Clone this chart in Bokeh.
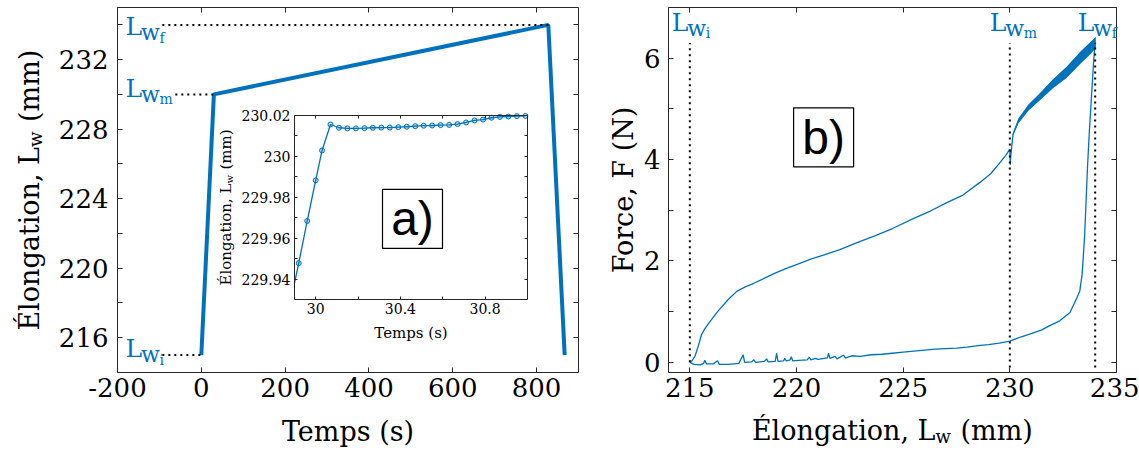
import math
from bokeh.plotting import figure
from bokeh.models import Range1d, LinearAxis, FixedTicker, Label
from bokeh.embed import file_html
from bokeh.resources import INLINE

# ---------------- data ----------------
# (a) elongation vs time
time_s = [0, 30, 828, 867]
elong_mm = [215.0, 230.0, 234.0, 215.0]
Lw_values = [215.0, 230.0, 234.0]          # Lw_i, Lw_m, Lw_f
Lw_times = [0, 30, 828]
Lw_subs = ["i", "m", "f"]

# (a) inset: zoom around t = 30 s
inset_edge_t = 29.9
inset_edge_L = 229.938
inset_t = [29.92, 29.96, 30.0, 30.03, 30.07, 30.11, 30.15, 30.19, 30.23, 30.27,
           30.31, 30.35, 30.39, 30.43, 30.47, 30.51, 30.55, 30.59, 30.63, 30.67,
           30.71, 30.75, 30.79, 30.83, 30.87, 30.91, 30.95, 30.99]
inset_L = [229.9478, 229.9684, 229.9883, 230.0029, 230.0156, 230.0140, 230.0137,
           230.0137, 230.0138, 230.0140, 230.0141, 230.0141, 230.0143, 230.0145,
           230.0148, 230.0150, 230.0151, 230.0153, 230.0154, 230.0158, 230.0166,
           230.0176, 230.0180, 230.0189, 230.0193, 230.0195, 230.0197, 230.0198]

# (b) force vs elongation : loading branch
load_x = [215.0, 215.1, 215.25, 215.4, 215.55, 215.7, 215.9, 216.3, 216.8, 217.2,
          217.6, 218.0, 218.5, 219.0, 219.5, 220.0, 220.7, 221.3, 222.0, 222.9,
          223.7, 224.5, 225.5, 226.3, 227.0, 227.8, 228.6, 229.1, 229.5, 229.8,
          230.0, 230.02]
load_F = [0.0, 0.03, 0.13, 0.33, 0.55, 0.66, 0.78, 1.0, 1.24, 1.4,
          1.49, 1.56, 1.66, 1.76, 1.85, 1.93, 2.04, 2.12, 2.22, 2.37,
          2.5, 2.64, 2.84, 2.99, 3.14, 3.3, 3.55, 3.72, 3.92, 4.08,
          4.2, 3.9]
# noisy part after Lw_m (centre, lower and upper envelope)
noisy_x = [230.05, 230.15, 230.4, 230.88, 231.36, 232.01, 232.66, 233.31, 233.8, 234.03]
noisy_F = [4.1, 4.5, 4.76, 5.03, 5.22, 5.49, 5.72, 6.01, 6.21, 6.31]
noisy_lo = [4.08, 4.47, 4.71, 4.97, 5.15, 5.4, 5.61, 5.89, 6.09, 6.2]
noisy_hi = [4.12, 4.53, 4.81, 5.09, 5.29, 5.58, 5.83, 6.13, 6.33, 6.42]
# unloading branch (from Lw_f back down)
unload_x = [234.0, 233.93, 233.72, 233.64, 233.51, 233.39, 233.28, 233.15, 232.82,
            232.34, 231.85, 231.5, 231.04, 230.5, 230.0]
unload_F = [6.31, 5.95, 4.5, 3.84, 2.53, 1.74, 1.41, 1.28, 0.985,
            0.82, 0.72, 0.64, 0.57, 0.5, 0.42]
# return branch near zero (x descending to Lw_i)
ret_x = [229.5, 229.0, 228.5, 228.0, 227.5, 227.0, 226.5, 226.0, 225.5, 225.0,
         224.5, 224.0, 223.5, 223.0, 222.6, 222.3, 222.2, 221.9, 221.8, 221.57,
         221.5, 221.45, 221.0, 220.9, 220.67, 220.6, 220.5, 220.1, 219.82, 219.76,
         219.7, 219.52, 219.45, 219.4, 219.13, 219.07, 219.0, 218.67, 218.6, 218.5,
         218.08, 218.0, 217.9, 217.57, 217.5, 217.3, 216.8, 216.38, 216.3, 216.1,
         215.78, 215.7, 215.65, 215.5, 215.2, 215.0]
ret_F = [0.38, 0.35, 0.33, 0.3, 0.28, 0.27, 0.26, 0.24, 0.22, 0.2,
         0.18, 0.16, 0.15, 0.12, 0.13, 0.09, 0.14, 0.07, 0.12, 0.08,
         0.18, 0.09, 0.06, 0.08, 0.05, 0.1, 0.05, 0.04, 0.03, 0.11,
         0.05, 0.03, 0.08, 0.03, 0.02, 0.18, 0.02, 0.01, 0.07, 0.02,
         0.0, 0.05, 0.01, 0.0, 0.15, -0.02, -0.04, -0.04, 0.03, -0.03,
         -0.03, 0.04, -0.02, -0.05, -0.04, 0.0]

# ticks
t_ticks = [-200, 0, 200, 400, 600, 800]
t_labels = ["-200", "0", "200", "400", "600", "800"]
L_ticks = [216, 220, 224, 228, 232]
L_labels = ["216", "220", "224", "228", "232"]
L_minor = [218, 222, 226, 230, 234]
it_ticks = [30.0, 30.4, 30.8]
it_labels = ["30", "30.4", "30.8"]
it_minor = [30.2, 30.6]
iL_ticks = [229.94, 229.96, 229.98, 230.0, 230.02]
iL_labels = ["229.94", "229.96", "229.98", "230", "230.02"]
iL_minor = [229.95, 229.97, 229.99, 230.01]
Fx_ticks = [215, 220, 225, 230, 235]
Fx_labels = ["215", "220", "225", "230", "235"]
Fy_ticks = [0, 2, 4, 6]
Fy_labels = ["0", "2", "4", "6"]
Fy_minor = [1, 3, 5]

# ---------------- style ----------------
BLUE = "#0072BD"
AX = "#262626"
FONT = "DejaVu Serif"
TICK_FS = "26px"
TITLE_FS = 27
BASE_CORR = 0.35           # Label 'alphabetic' anchor correction (fraction of font size)
W, H = 1139, 449           # one canvas; every panel box is placed inside it (pixels)

p = figure(frame_width=W, frame_height=H, x_range=Range1d(0, W), y_range=Range1d(H, 0),
           x_axis_location=None, y_axis_location=None, output_backend="svg",
           toolbar_location=None, min_border_left=0, min_border_right=0,
           min_border_top=0, min_border_bottom=0)
p.outline_line_color = None
p.background_fill_color = "white"
p.border_fill_color = "white"
for g in p.grid:
    g.visible = False


def panel(name, x0, x1, y0, y1, L, R, T, B):
    """map data box [x0,x1]x[y0,y1] onto pixel box L..R (left->right), T..B (top->bottom)"""
    sx = (x1 - x0) / (R - L)
    sy = (y1 - y0) / (B - T)
    p.extra_x_ranges[name] = Range1d(x0 - L * sx, x0 - L * sx + W * sx)
    p.extra_y_ranges[name] = Range1d(y0 - (H - B) * sy, y1 + T * sy)


def make_axis(name, side, loc, bounds, ticks, labels, minor, size, standoff, tick_len, show):
    ax = LinearAxis(x_range_name=name, y_range_name=name, fixed_location=loc, bounds=bounds)
    ax.ticker = FixedTicker(ticks=list(ticks), minor_ticks=list(minor))
    ax.major_label_overrides = {t: (l if show else "") for t, l in zip(ticks, labels)}
    ax.major_tick_in = tick_len
    ax.major_tick_out = 0
    ax.minor_tick_in = tick_len
    ax.minor_tick_out = 0
    ax.axis_line_color = AX
    ax.major_tick_line_color = AX
    ax.minor_tick_line_color = AX
    ax.major_label_text_font = FONT
    ax.major_label_text_font_size = size if show else "0px"
    ax.major_label_standoff = standoff if show else 0
    ax.major_label_text_color = "black"
    p.add_layout(ax, side)


def box_axes(name, x0, x1, y0, y1, xt, xl, xm, yt, yl, ym, size, sox, soy, tl):
    make_axis(name, "below", y0, (x0, x1), xt, xl, xm, size, sox, tl, True)
    make_axis(name, "above", y1, (x0, x1), xt, xl, xm, size, 0, tl, False)
    make_axis(name, "left", x0, (y0, y1), yt, yl, ym, size, soy, tl, True)
    make_axis(name, "right", x1, (y0, y1), yt, yl, ym, size, 0, tl, False)


def add_text(x, y, text, size, color="black", align="left", baseline="alphabetic",
             angle=0.0, xo=0, yo=0, font=FONT, rn="default"):
    if baseline == "alphabetic":
        if angle == 0.0:
            yo += BASE_CORR * size
        else:
            xo -= BASE_CORR * size
    p.add_layout(Label(x=x, y=y, text=text, text_font=font, text_font_size=f"{size}px",
                       text_color=color, text_align=align, text_baseline=baseline,
                       angle=angle, x_offset=xo, y_offset=yo,
                       x_range_name=rn, y_range_name=rn))


def lw_label(x, y, sub, xo=0, rn="default"):
    add_text(x, y, "L", 25, BLUE, xo=xo, rn=rn)
    add_text(x, y, "w", 22, BLUE, xo=xo + 15.5, yo=-6 + BASE_CORR * (25 - 22), rn=rn)
    add_text(x, y, sub, 14, BLUE, xo=xo + 34, yo=-11 + BASE_CORR * (25 - 14), rn=rn)


def sub_title(xj, yj, size, subsize, vertical, gap, shift):
    """'Élongation, L_w (mm)' joined at (xj, yj) in canvas pixels"""
    ang = math.pi / 2 if vertical else 0.0
    d = BASE_CORR * (size - subsize)
    add_text(xj, yj, "Élongation, L", size, align="right", angle=ang)
    if vertical:
        add_text(xj, yj, "w", subsize, angle=ang, xo=shift - d)
        add_text(xj, yj, "(mm)", size, angle=ang, yo=gap)
    else:
        add_text(xj, yj, "w", subsize, angle=ang, yo=-shift + d)
        add_text(xj, yj, "(mm)", size, angle=ang, xo=gap)


# ---- panel boxes (pixels inside the canvas) ----
AL, AR, AT, AB = 117, 578, 7, 372
BL, BR, BT, BB = 668, 1116, 7, 372
IL, IR, IT, IB = 294, 527, 115, 299

panel("A", -200, 900, 214, 235, AL, AR, AT, AB)
panel("B", 214, 235, -0.2, 7, BL, BR, BT, BB)
panel("I", 29.9, 31.0, 229.93, 230.02, IL, IR, IT, IB)

# ================= (a) =================
p.line(time_s, elong_mm, line_color=BLUE, line_width=4, x_range_name="A", y_range_name="A")
p.segment(x0=[-93, -62, -93], y0=Lw_values, x1=Lw_times, y1=Lw_values,
          line_color="black", line_width=2, line_dash="2 4", x_range_name="A", y_range_name="A")
box_axes("A", -200, 900, 214, 235, t_ticks, t_labels, [], L_ticks, L_labels, L_minor,
         TICK_FS, 5, 9, 5)
for yb, sub in zip([357, 96.5, 35], Lw_subs):
    lw_label(125, yb, sub)

sub_title(38, (AT + AB) / 2 - 43, TITLE_FS, 18, True, 25, 6)
add_text((AL + AR) / 2, 440, "Temps (s)", TITLE_FS, align="center")

# inset
p.quad(left=[29.9], right=[31.0], bottom=[229.93], top=[230.02], fill_color="white",
       line_color=None, x_range_name="I", y_range_name="I")
p.line([inset_edge_t] + inset_t, [inset_edge_L] + inset_L, line_color=BLUE, line_width=1.3,
       x_range_name="I", y_range_name="I")
p.scatter(inset_t, inset_L, size=5, marker="circle", line_color=BLUE, fill_color=BLUE,
          fill_alpha=0.25, line_width=1, x_range_name="I", y_range_name="I")
box_axes("I", 29.9, 31.0, 229.93, 230.02, it_ticks, it_labels, it_minor,
         iL_ticks, iL_labels, iL_minor, "14px", 3, 4, 3)
add_text((IL + IR) / 2, 338, "Temps (s)", 15, align="center")
sub_title(231, (IT + IB) / 2 - 24, 15, 10, True, 14, 3.5)

p.rect(x=[412], y=[218.3], width=60, height=59, width_units="screen", height_units="screen",
       fill_color="white", line_color="black", line_width=1.2)
add_text(412, 218.3, "a)", 48, align="center", baseline="middle", font="Liberation Sans")

# ================= (b) =================
p.varea(x=noisy_x, y1=noisy_lo, y2=noisy_hi, fill_color=BLUE, x_range_name="B", y_range_name="B")
p.line(load_x + noisy_x + unload_x + ret_x, load_F + noisy_F + unload_F + ret_F,
       line_color=BLUE, line_width=1.3, x_range_name="B", y_range_name="B")
p.segment(x0=Lw_values, y0=[0, -0.1, -0.1], x1=Lw_values, y1=[6.3, 6.3, 6.3],
          line_color="black", line_width=2, line_dash="2 4", x_range_name="B", y_range_name="B")
box_axes("B", 214, 235, -0.2, 7, Fx_ticks, Fx_labels, [], Fy_ticks, Fy_labels, Fy_minor,
         TICK_FS, 5, 8, 5)
for xv, xo, sub in zip(Lw_values, [-18, -20, -17.5], Lw_subs):
    lw_label(xv, 6.54, sub, xo=xo, rn="B")

sub_title((BL + BR) / 2 + 43, 439, TITLE_FS, 18, False, 25, 6)
add_text(632, (BT + BB) / 2, "Force, F (N)", TITLE_FS, align="center", angle=math.pi / 2)

p.rect(x=[221.27], y=[4.44], width=60, height=59, width_units="screen", height_units="screen",
       fill_color="white", line_color="black", line_width=1.2, x_range_name="B", y_range_name="B")
add_text(221.27, 4.44, "b)", 48, align="center", baseline="middle", font="Liberation Sans", rn="B")

open("out.html", "w").write(file_html(p, INLINE))
